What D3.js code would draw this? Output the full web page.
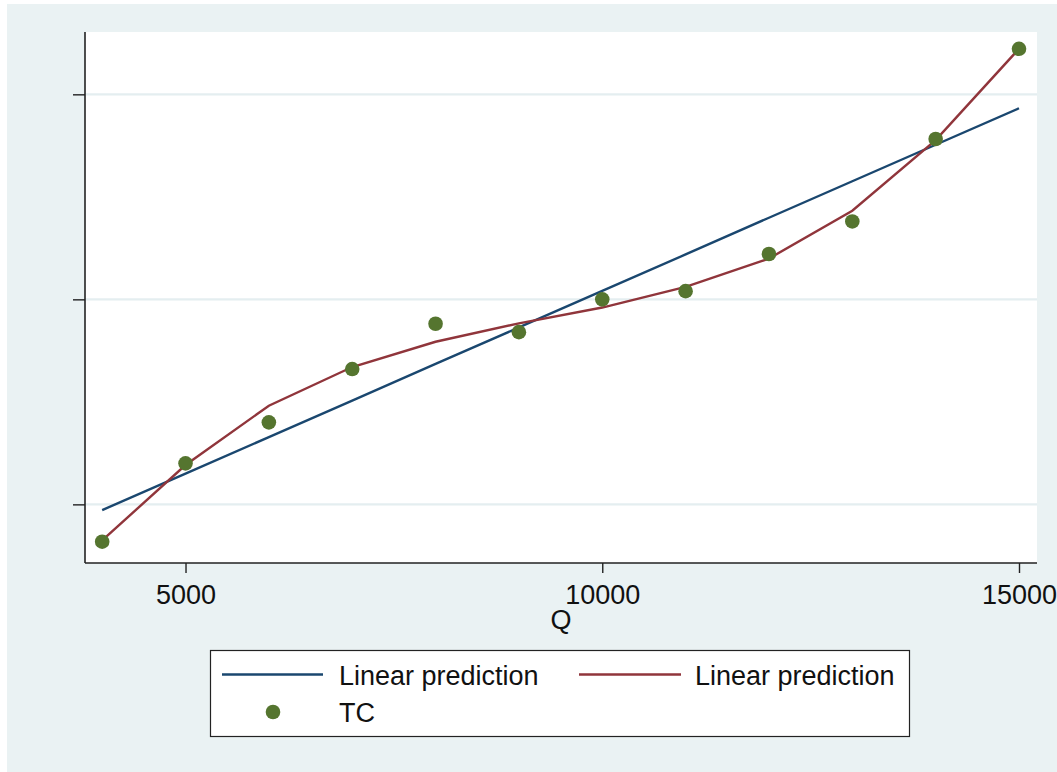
<!DOCTYPE html>
<html>
<head>
<meta charset="utf-8">
<script src="https://cdn.jsdelivr.net/npm/d3@7"></script>
<style>
  html, body { margin: 0; padding: 0; background: #ffffff; }
  svg { display: block; }
</style>
</head>
<body>
<svg id="chart" width="1057" height="772"></svg>
<script>
// Output quantity and observed total cost
const quantity = [4000, 5000, 6000, 7000, 8000, 9000, 10000, 11000, 12000, 13000, 14000, 15000];
const totalCost = [81.8, 120.0, 140.0, 166.0, 188.1, 184.0, 200.0, 204.0, 222.1, 238.0, 278.2, 322.2];
// Fitted values: straight-line model and cubic model
const fitLinear = [97.2, 115.0, 132.8, 150.6, 168.5, 186.3, 204.1, 221.9, 239.8, 257.6, 275.4, 293.2];
const fitCubic = [82.4, 119.2, 148.1, 167.0, 179.3, 188.3, 196.0, 206.1, 219.9, 243.2, 277.7, 322.2];

const xTicks = [5000, 10000, 15000];
const yTicks = [100, 200, 300];
const legendLabels = ["Linear prediction", "Linear prediction", "TC"];
const xTitle = "Q";

const colors = { linear: "#1a476f", cubic: "#90353b", points: "#55752f" };
const bg = "#eaf2f3";
const font = "'Liberation Sans', Arial, sans-serif";
const fontSize = 27;

const svg = d3.select("#chart");
const W = 1057, H = 772;
const plot = { left: 85, top: 32, right: 1037, bottom: 563 };

// outer graph region
svg.append("rect").attr("x", 7).attr("y", 4).attr("width", W - 7).attr("height", H - 4).attr("fill", bg);
// plot region
svg.append("rect")
  .attr("x", plot.left).attr("y", plot.top)
  .attr("width", plot.right - plot.left).attr("height", plot.bottom - plot.top)
  .attr("fill", "#ffffff");

const x = d3.scaleLinear().domain([3794, 15216]).range([plot.left, plot.right]);
const y = d3.scaleLinear().domain([71.4, 330.4]).range([plot.bottom, plot.top]);

// horizontal grid lines
svg.append("g").selectAll("line").data(yTicks).join("line")
  .attr("x1", plot.left).attr("x2", plot.right)
  .attr("y1", d => y(d)).attr("y2", d => y(d))
  .attr("stroke", "#e4eef0").attr("stroke-width", 2.2);

// fitted lines
const rows = quantity.map((q, i) => ({ q, tc: totalCost[i], lin: fitLinear[i], cub: fitCubic[i] }));
const lineLin = d3.line().x(d => x(d.q)).y(d => y(d.lin));
const lineCub = d3.line().x(d => x(d.q)).y(d => y(d.cub));
svg.append("path").datum(rows).attr("d", lineLin)
  .attr("fill", "none").attr("stroke", colors.linear).attr("stroke-width", 2.4);
svg.append("path").datum(rows).attr("d", lineCub)
  .attr("fill", "none").attr("stroke", colors.cubic).attr("stroke-width", 2.4);

// observed points
svg.append("g").selectAll("circle").data(rows).join("circle")
  .attr("cx", d => x(d.q)).attr("cy", d => y(d.tc)).attr("r", 7.3)
  .attr("fill", colors.points);

// y axis (ticks without labels)
const yAxis = svg.append("g").attr("transform", `translate(${plot.left},0)`)
  .call(d3.axisLeft(y).tickValues(yTicks).tickSize(12).tickFormat(() => ""));
yAxis.select(".domain").attr("d", `M0,${plot.top}V${plot.bottom}`).attr("stroke", "#222").attr("stroke-width", 1.6);
yAxis.selectAll(".tick line").attr("stroke", "#222").attr("stroke-width", 1.4);

// x axis
const xAxis = svg.append("g").attr("transform", `translate(0,${plot.bottom})`)
  .call(d3.axisBottom(x).tickValues(xTicks).tickSize(10).tickFormat(d3.format("d")));
xAxis.select(".domain").attr("d", `M${plot.left},0H${plot.right}`).attr("stroke", "#222").attr("stroke-width", 1.6);
xAxis.selectAll(".tick line").attr("stroke", "#222").attr("stroke-width", 1.4);
xAxis.selectAll(".tick text")
  .attr("y", 41).attr("dy", null)
  .attr("font-family", font).attr("font-size", fontSize).attr("fill", "#111");

// x axis title
svg.append("text")
  .attr("x", (plot.left + plot.right) / 2).attr("y", 629)
  .attr("text-anchor", "middle")
  .attr("font-family", font).attr("font-size", fontSize).attr("fill", "#111")
  .text(xTitle);

// legend
const lg = svg.append("g");
lg.append("rect").attr("x", 210.5).attr("y", 650.5).attr("width", 699).attr("height", 86)
  .attr("fill", "#ffffff").attr("stroke", "#222").attr("stroke-width", 1.2);
lg.append("line").attr("x1", 222).attr("x2", 323).attr("y1", 674.5).attr("y2", 674.5)
  .attr("stroke", colors.linear).attr("stroke-width", 2.4);
lg.append("line").attr("x1", 579).attr("x2", 681).attr("y1", 674.5).attr("y2", 674.5)
  .attr("stroke", colors.cubic).attr("stroke-width", 2.4);
lg.append("circle").attr("cx", 273).attr("cy", 712).attr("r", 7.3).attr("fill", colors.points);
const legendPos = [[339, 685], [695, 685], [339, 722]];
lg.selectAll("text").data(legendLabels).join("text")
  .attr("x", (d, i) => legendPos[i][0]).attr("y", (d, i) => legendPos[i][1])
  .attr("font-family", font).attr("font-size", fontSize).attr("fill", "#111")
  .text(d => d);
</script>
</body>
</html>
